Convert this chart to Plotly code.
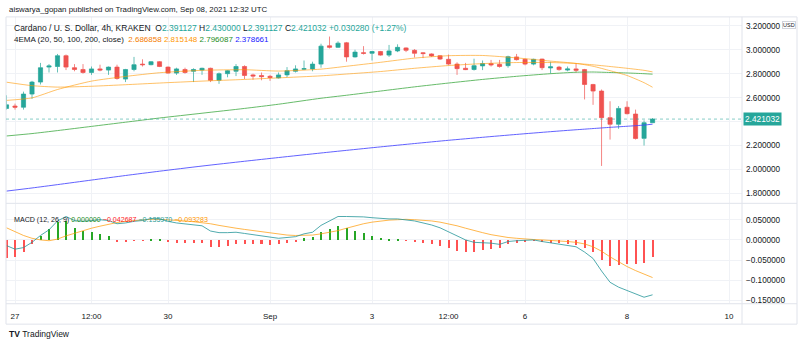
import pandas as pd
import plotly.graph_objects as go

# ---------------- data ----------------
opens = [2.51, 2.53, 2.52, 2.63, 2.73, 2.855, 2.86, 2.95, 2.85, 2.835,
         2.81, 2.84, 2.83, 2.855, 2.755, 2.835, 2.88, 2.875, 2.90, 2.855,
         2.805, 2.835, 2.82, 2.83, 2.845, 2.745, 2.80, 2.82, 2.86, 2.79,
         2.785, 2.778, 2.765, 2.79, 2.82, 2.837, 2.84, 2.88, 3.033, 3.02,
         3.058, 2.94, 2.975, 2.97, 2.985, 2.955, 2.99, 3.015, 2.995, 2.975,
         2.965, 2.95, 2.92, 2.88, 2.845, 2.835, 2.865, 2.884, 2.878, 2.867,
         2.94, 2.92, 2.88, 2.922, 2.848, 2.855, 2.83, 2.84, 2.834, 2.71,
         2.655, 2.433, 2.378, 2.52, 2.463, 2.26, 2.391127]
highs = [2.62, 2.55, 2.65, 2.74, 2.89, 2.88, 2.965, 2.96, 2.88, 2.88,
         2.86, 2.875, 2.86, 2.875, 2.84, 2.94, 2.92, 2.905, 2.905, 2.86,
         2.85, 2.85, 2.845, 2.85, 2.85, 2.81, 2.83, 2.88, 2.87, 2.80,
         2.81, 2.79, 2.81, 2.855, 2.87, 2.91, 2.90, 3.05, 3.11, 3.07,
         3.065, 3.00, 3.03, 2.99, 2.99, 3.04, 3.045, 3.02, 3.005, 2.98,
         2.97, 2.955, 2.96, 2.895, 2.89, 2.925, 2.91, 2.915, 2.915, 2.95,
         2.965, 2.925, 2.925, 2.925, 2.90, 2.865, 2.86, 2.885, 2.84, 2.715,
         2.668, 2.57, 2.53, 2.57, 2.50, 2.41, 2.43]
lows = [2.50, 2.50, 2.50, 2.59, 2.71, 2.81, 2.81, 2.83, 2.82, 2.80,
        2.79, 2.82, 2.79, 2.75, 2.73, 2.82, 2.86, 2.87, 2.855, 2.80,
        2.79, 2.80, 2.73, 2.79, 2.73, 2.715, 2.77, 2.78, 2.755, 2.75,
        2.745, 2.74, 2.76, 2.77, 2.81, 2.83, 2.82, 2.85, 3.01, 3.015,
        2.90, 2.935, 2.96, 2.91, 2.95, 2.94, 2.98, 2.98, 2.935, 2.93,
        2.94, 2.915, 2.87, 2.79, 2.83, 2.826, 2.83, 2.86, 2.85, 2.85,
        2.91, 2.87, 2.87, 2.83, 2.80, 2.825, 2.82, 2.81, 2.585, 2.54,
        2.03, 2.25, 2.34, 2.46, 2.25, 2.20, 2.391127]
closes = [2.54, 2.52, 2.63, 2.73, 2.85, 2.865, 2.95, 2.855, 2.835, 2.81,
          2.84, 2.83, 2.855, 2.76, 2.835, 2.875, 2.875, 2.90, 2.86, 2.805,
          2.84, 2.81, 2.835, 2.845, 2.745, 2.80, 2.825, 2.86, 2.785, 2.78,
          2.775, 2.768, 2.79, 2.825, 2.84, 2.842, 2.88, 3.03, 3.02, 3.055,
          2.94, 2.98, 2.97, 2.985, 2.955, 2.99, 3.02, 2.995, 2.97, 2.968,
          2.948, 2.922, 2.88, 2.842, 2.834, 2.867, 2.884, 2.873, 2.86, 2.942,
          2.917, 2.88, 2.92, 2.85, 2.857, 2.834, 2.84, 2.828, 2.71, 2.655,
          2.433, 2.378, 2.51, 2.466, 2.259, 2.390752, 2.421032]
times = pd.date_range("2021-08-26 20:00", periods=len(closes), freq="4h")

# EMA values sampled at these bar indices
ema_idx = [0, 3, 6, 10, 14, 18, 23, 28, 32, 37, 40, 44, 48, 52, 56, 60,
           64, 67, 69, 71, 73, 75, 76]
ema20 = [2.577, 2.598, 2.668, 2.738, 2.777, 2.808, 2.828, 2.833, 2.822, 2.838,
         2.862, 2.895, 2.930, 2.950, 2.952, 2.932, 2.905, 2.886, 2.862, 2.825,
         2.785, 2.725, 2.686858]
ema50 = [2.729, 2.700, 2.688, 2.695, 2.708, 2.722, 2.738, 2.752, 2.765, 2.782,
         2.797, 2.818, 2.845, 2.868, 2.884, 2.893, 2.893, 2.885, 2.874, 2.860,
         2.845, 2.828, 2.815148]
ema100 = [2.280, 2.300, 2.325, 2.360, 2.395, 2.430, 2.470, 2.510, 2.545, 2.595,
          2.620, 2.655, 2.690, 2.722, 2.752, 2.778, 2.800, 2.812, 2.814, 2.810,
          2.806, 2.800, 2.796087]
ema200 = [1.820, 1.846, 1.874, 1.912, 1.950, 1.986, 2.029, 2.069, 2.100, 2.138,
          2.160, 2.189, 2.217, 2.244, 2.269, 2.293, 2.316, 2.332, 2.342, 2.352,
          2.361, 2.371, 2.378661]

# MACD (12, 26, 9)
macd_line = [-0.014, -0.023, -0.019, -0.006, 0.011, 0.025, 0.047, 0.058, 0.048, 0.046,
             0.048, 0.050, 0.048, 0.040, 0.042, 0.046, 0.048, 0.053, 0.052, 0.046,
             0.042, 0.040, 0.037, 0.035, 0.022, 0.018, 0.018, 0.019, 0.016, 0.013,
             0.010, 0.006, 0.004, 0.006, 0.008, 0.015, 0.019, 0.036, 0.046, 0.058,
             0.058, 0.058, 0.057, 0.055, 0.053, 0.052, 0.052, 0.050, 0.047, 0.042,
             0.037, 0.030, 0.020, 0.009, 0.000, -0.006, -0.007, -0.008, -0.011, -0.004,
             -0.002, -0.001, 0.000, -0.004, -0.007, -0.010, -0.014, -0.017, -0.030, -0.046,
             -0.077, -0.105, -0.117, -0.125, -0.135, -0.142, -0.135970]
signal_line = [0.030, 0.020, 0.011, 0.004, 0.000, -0.002, 0.002, 0.010, 0.017, 0.023,
               0.029, 0.034, 0.039, 0.043, 0.046, 0.048, 0.050, 0.051, 0.051, 0.050,
               0.049, 0.047, 0.045, 0.043, 0.040, 0.036, 0.032, 0.029, 0.026, 0.023,
               0.020, 0.017, 0.014, 0.012, 0.011, 0.011, 0.012, 0.015, 0.019, 0.023,
               0.029, 0.035, 0.040, 0.044, 0.047, 0.049, 0.050, 0.051, 0.050, 0.049,
               0.047, 0.044, 0.040, 0.035, 0.029, 0.023, 0.018, 0.013, 0.009, 0.006,
               0.004, 0.002, 0.001, 0.000, -0.001, -0.002, -0.004, -0.006, -0.010, -0.017,
               -0.028, -0.042, -0.055, -0.066, -0.076, -0.085, -0.093283]
macd_hist = [-0.044, -0.043, -0.030, -0.010, 0.011, 0.027, 0.045, 0.048, 0.031, 0.023,
             0.019, 0.016, 0.009, -0.003, -0.004, -0.002, -0.002, 0.002, 0.001, -0.004,
             -0.007, -0.007, -0.008, -0.008, -0.018, -0.018, -0.014, -0.010, -0.010, -0.010,
             -0.010, -0.011, -0.010, -0.006, -0.003, 0.004, 0.007, 0.021, 0.027, 0.035,
             0.029, 0.023, 0.017, 0.011, 0.006, 0.003, 0.002, -0.001, -0.003, -0.007,
             -0.010, -0.014, -0.020, -0.026, -0.029, -0.029, -0.025, -0.021, -0.020, -0.010,
             -0.006, -0.003, -0.001, -0.004, -0.006, -0.008, -0.010, -0.011, -0.020, -0.029,
             -0.049, -0.063, -0.062, -0.059, -0.059, -0.057, -0.042687]

x_ticks = ["2021-08-27", "2021-08-28 12:00", "2021-08-30", "2021-09-01", "2021-09-03",
           "2021-09-04 12:00", "2021-09-06", "2021-09-08", "2021-09-10"]
x_tick_labels = ["27", "12:00", "30", "Sep", "3", "12:00", "6", "8", "10"]
price_ticks = [1.8, 2.0, 2.2, 2.4, 2.6, 2.8, 3.0, 3.2]
macd_ticks = [0.05, 0.0, -0.05, -0.1, -0.15]

# ---------------- styling / geometry ----------------
W, H = 800, 348
PANE_L, PANE_R, FRAME_R = 6, 742, 797
MAIN_T, MAIN_B = 17, 204
MACD_T, MACD_B = 205, 305
AXIS_B = 326

UP, DOWN = "#26a69a", "#ef5350"
GRID = "#f0f2f6"
BORDER = "#e0e3eb"
TEXT = "#131722"
FONT = "Liberation Sans"


def fx(px):
    return px / W


def fy(py):
    return 1 - py / H


fig = go.Figure()

fig.add_trace(go.Candlestick(
    x=times, open=opens, high=highs, low=lows, close=closes,
    increasing=dict(line=dict(color="rgba(38,166,154,0.7)", width=1), fillcolor=UP),
    decreasing=dict(line=dict(color="rgba(239,83,80,0.7)", width=1), fillcolor=DOWN),
    whiskerwidth=0, hoverinfo="skip", xaxis="x", yaxis="y"))

ema_x = [times[i] for i in ema_idx]
for vals, col in [(ema200, "rgba(70,70,255,0.85)"),
                  (ema100, "rgba(76,175,80,0.85)"),
                  (ema50, "rgba(255,152,0,0.6)"),
                  (ema20, "rgba(255,152,0,0.6)")]:
    fig.add_trace(go.Scatter(x=ema_x, y=vals, mode="lines",
                             line=dict(color=col, width=1, shape="spline", smoothing=0.6),
                             hoverinfo="skip", xaxis="x", yaxis="y"))

bar_w = 2 / 51 * 86400000  # about two pixels, in milliseconds
fig.add_trace(go.Bar(x=times, y=macd_hist, width=bar_w,
                     marker=dict(color=["#26a626" if v >= 0 else "#ff5252" for v in macd_hist],
                                 line=dict(width=0)),
                     hoverinfo="skip", xaxis="x2", yaxis="y2"))
fig.add_trace(go.Scatter(x=times, y=signal_line, mode="lines",
                         line=dict(color="rgba(255,152,0,0.7)", width=1),
                         hoverinfo="skip", xaxis="x2", yaxis="y2"))
fig.add_trace(go.Scatter(x=times, y=macd_line, mode="lines",
                         line=dict(color="rgba(38,150,154,0.8)", width=1),
                         hoverinfo="skip", xaxis="x2", yaxis="y2"))

last = closes[-1]
x_range = ["2021-08-26 19:46", "2021-09-10 06:05"]
dom_x = [fx(PANE_L), fx(PANE_R)]
yaxis_font = dict(family=FONT, size=8.2, color=TEXT)
xaxis_font = dict(family=FONT, size=8, color=TEXT)

fig.update_layout(
    width=W, height=H, margin=dict(l=0, r=0, t=0, b=0),
    paper_bgcolor="white", plot_bgcolor="white",
    showlegend=False, hovermode=False, bargap=0,
    xaxis=dict(domain=dom_x, anchor="y", type="date", range=x_range,
               tickvals=x_ticks, showticklabels=False, ticks="",
               showgrid=True, gridcolor=GRID, gridwidth=1, zeroline=False,
               showline=False, rangeslider=dict(visible=False)),
    xaxis2=dict(domain=dom_x, anchor="y2", type="date", matches="x", range=x_range,
                tickvals=x_ticks, ticktext=x_tick_labels, ticks="",
                tickfont=xaxis_font, ticklabelstandoff=7,
                showgrid=True, gridcolor=GRID, gridwidth=1, zeroline=False, showline=False),
    yaxis=dict(domain=[fy(MAIN_B), fy(MAIN_T)], anchor="x", side="right",
               range=[1.722, 3.274], tickvals=price_ticks,
               ticktext=["" if abs(v - last) < 0.05 else f"{v:.6f}" for v in price_ticks],
               tickfont=yaxis_font, ticks="", ticklabelstandoff=3,
               showgrid=True, gridcolor=GRID, zeroline=False, showline=False),
    yaxis2=dict(domain=[fy(MACD_B), fy(MACD_T)], anchor="x2", side="right",
                range=[-0.1569, 0.0894], tickvals=macd_ticks, tickformat=".6f",
                tickfont=yaxis_font, ticks="", ticklabelstandoff=3,
                showgrid=True, gridcolor=GRID, zeroline=False, showline=False),
)

line_style = dict(color=BORDER, width=1)
shapes = [
    # frame, price-scale divider, pane divider, time-scale divider
    dict(type="rect", xref="paper", yref="paper", x0=fx(PANE_L), x1=fx(FRAME_R),
         y0=fy(AXIS_B), y1=fy(MAIN_T), line=line_style),
    dict(type="line", xref="paper", yref="paper", x0=fx(PANE_R), x1=fx(PANE_R),
         y0=fy(AXIS_B), y1=fy(MAIN_T), line=line_style),
    dict(type="line", xref="paper", yref="paper", x0=fx(PANE_L), x1=fx(FRAME_R),
         y0=fy(MAIN_B + 0.5), y1=fy(MAIN_B + 0.5), line=line_style),
    dict(type="line", xref="paper", yref="paper", x0=fx(PANE_L), x1=fx(FRAME_R),
         y0=fy(MACD_B + 0.5), y1=fy(MACD_B + 0.5), line=line_style),
    # last price line
    dict(type="line", xref="x domain", yref="y", x0=0, x1=1, y0=last, y1=last,
         line=dict(color="rgba(38,166,154,0.55)", width=1, dash="dot")),
]
fig.update_layout(shapes=shapes)


def span(txt, col):
    return f"<span style='color:{col}'>{txt}</span>"


chg = closes[-1] - closes[-2]
pct = chg / closes[-2] * 100
val_col = UP if chg >= 0 else DOWN
legend1 = ("Cardano / U. S. Dollar, 4h, KRAKEN&nbsp;&nbsp;"
           f"O{span(f'{opens[-1]:.6f}', val_col)} H{span(f'{highs[-1]:.6f}', val_col)} "
           f"L{span(f'{lows[-1]:.6f}', val_col)} C{span(f'{closes[-1]:.6f}', val_col)} "
           + span(f"{chg:+.6f} ({pct:+.2f}%)", val_col))
legend2 = ("4EMA (20, 50, 100, 200, close)&nbsp;&nbsp;"
           f"{span(f'{ema20[-1]:.6f}', '#f57c00')} {span(f'{ema50[-1]:.6f}', '#ff9800')} "
           f"{span(f'{ema100[-1]:.6f}', '#1e8c1e')} {span(f'{ema200[-1]:.6f}', '#2020ff')}")


def fmt(v):
    return f"{v:.6f}".replace("-", "\u2212")


legend3 = ("MACD (12, 26, 9)&nbsp;"
           f"{span(fmt(0.0), '#1e8c1e')} {span(fmt(macd_hist[-1]), '#ff1a1a')} "
           f"{span(fmt(macd_line[-1]), '#2a9d96')} {span(fmt(signal_line[-1]), '#ff9800')}")

ann = [
    dict(text="aiswarya_gopan published on TradingView.com, Sep 08, 2021 12:32 UTC",
         x=fx(7), y=fy(10), font=dict(family=FONT, size=7.9, color=TEXT)),
    dict(text=legend1, x=fx(12), y=fy(28), font=dict(family=FONT, size=8.5, color=TEXT)),
    dict(text=legend2, x=fx(12), y=fy(40), font=dict(family=FONT, size=8.0, color=TEXT)),
    dict(text=legend3, x=fx(12), y=fy(221), font=dict(family=FONT, size=7.1, color=TEXT)),
    dict(text="<b>TV</b>&nbsp;TradingView", x=fx(7), y=fy(336),
         font=dict(family=FONT, size=8.5, color=TEXT)),
]
for a in ann:
    a.update(xref="paper", yref="paper", xanchor="left", yanchor="middle",
             showarrow=False, align="left")

# current price tag on the price scale
ann.append(dict(text=f"{last:.6f}", xref="paper", yref="y", x=fx(PANE_R + 1), y=last,
                xanchor="left", yanchor="middle", showarrow=False,
                bgcolor=UP, borderpad=1, font=dict(family=FONT, size=8.3, color="white")))
# currency badge, tucked into the top-right corner of the price scale
ann.append(dict(text="USD", xref="paper", yref="paper", x=fx(796), y=fy(25),
                xanchor="right", yanchor="middle", showarrow=False,
                bgcolor="white", bordercolor="#d1d4dc", borderwidth=1, borderpad=0,
                font=dict(family=FONT, size=5.5, color=TEXT)))
fig.update_layout(annotations=ann)

fig.write_html("out.html")
